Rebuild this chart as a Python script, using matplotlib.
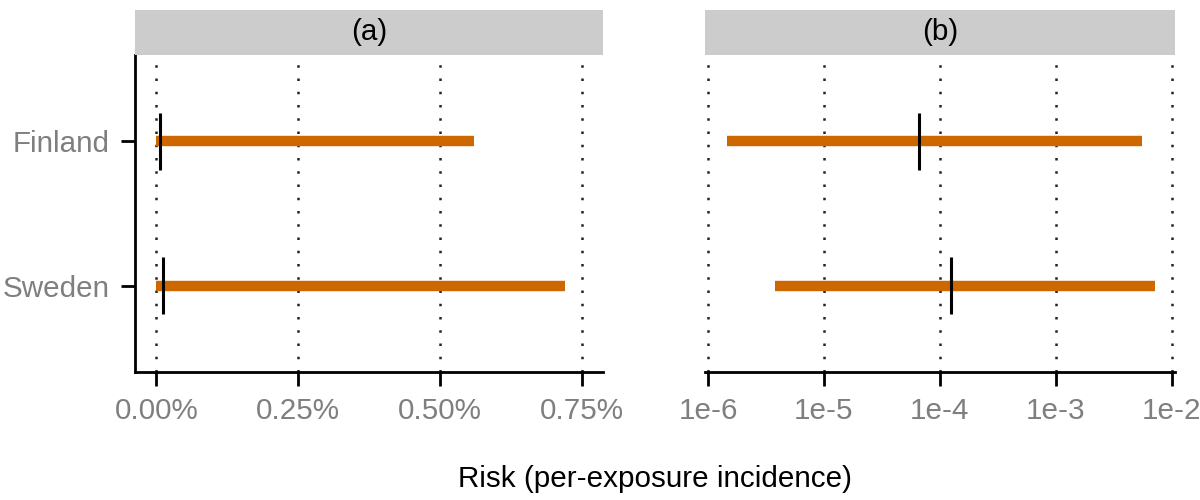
import numpy as np
import matplotlib
matplotlib.use("Agg")
import matplotlib.pyplot as plt

plt.rcParams['font.family'] = ['Liberation Sans', 'DejaVu Sans']

# per-exposure incidence (proportions)
countries = ['Finland', 'Sweden']
risk_low = [1.46e-6, 3.8e-6]
risk_med = [6.65e-5, 1.26e-4]
risk_high = [5.6e-3, 7.2e-3]

lin_ticks = [0.0, 0.25, 0.5, 0.75]
lin_labels = ['0.00%', '0.25%', '0.50%', '0.75%']
log_ticks = [1e-6, 1e-5, 1e-4, 1e-3, 1e-2]
log_labels = ['1e-6', '1e-5', '1e-4', '1e-3', '1e-2']

orange = '#CD6700'
grey_txt = '#7F7F7F'
fs = 21.3

fig = plt.figure(figsize=(12, 5), dpi=100)
ax_a = fig.add_axes([135/1200, 1-372/500, 468/1200, 317/500])
ax_b = fig.add_axes([705/1200, 1-372/500, 470/1200, 317/500])

ypos = np.arange(len(countries))


def panel(ax, lo, med, hi, ticks, labels, title, left_spine):
    for t in ticks:
        ax.axvline(t, color='#222222', lw=1.8, ls=(0, (1, 4.3)), zorder=0)
    ax.hlines(ypos, lo, hi, color=orange, lw=7.5, zorder=2)
    ax.vlines(med, ypos - 0.2, ypos + 0.2, color='black', lw=2.2, zorder=3)
    ax.set_ylim(len(countries) - 0.4, -0.6)
    ax.set_xticks(ticks)
    ax.set_xticklabels(labels)
    for s in ['top', 'right']:
        ax.spines[s].set_visible(False)
    ax.spines['bottom'].set_linewidth(2)
    ax.spines['left'].set_linewidth(2)
    ax.spines['left'].set_visible(left_spine)
    ax.tick_params(axis='x', length=10, width=2, labelsize=fs, labelcolor=grey_txt, pad=8)
    if left_spine:
        ax.set_yticks(ypos)
        ax.set_yticklabels(countries)
        ax.tick_params(axis='y', length=10, width=2, labelsize=fs, labelcolor=grey_txt, pad=8)
    else:
        ax.set_yticks([])
    # facet strip
    pos = ax.get_position()
    strip = fig.add_axes([pos.x0, pos.y1, pos.width, 45/500])
    strip.set_facecolor('#CCCCCC')
    strip.set_xticks([])
    strip.set_yticks([])
    for s in strip.spines.values():
        s.set_visible(False)
    strip.text(0.5, 0.5, title, ha='center', va='center', fontsize=fs, transform=strip.transAxes)


panel(ax_a, [v * 100 for v in risk_low], [v * 100 for v in risk_med], [v * 100 for v in risk_high],
      lin_ticks, lin_labels, '(a)', True)
ax_a.set_xlim(-0.0375, 0.7875)

panel(ax_b, risk_low, risk_med, risk_high, log_ticks, log_labels, '(b)', False)
ax_b.set_xscale('log')
ax_b.set_xticks(log_ticks)
ax_b.set_xticklabels(log_labels)
ax_b.minorticks_off()
ax_b.set_xlim(10**-6.026, 10**-1.97)

# centred on the panel area, like ggplot
fig.text(655/1200, 1 - 487/500, 'Risk (per-exposure incidence)', ha='center', va='baseline', fontsize=fs)

fig.savefig('out.png', dpi=100)
